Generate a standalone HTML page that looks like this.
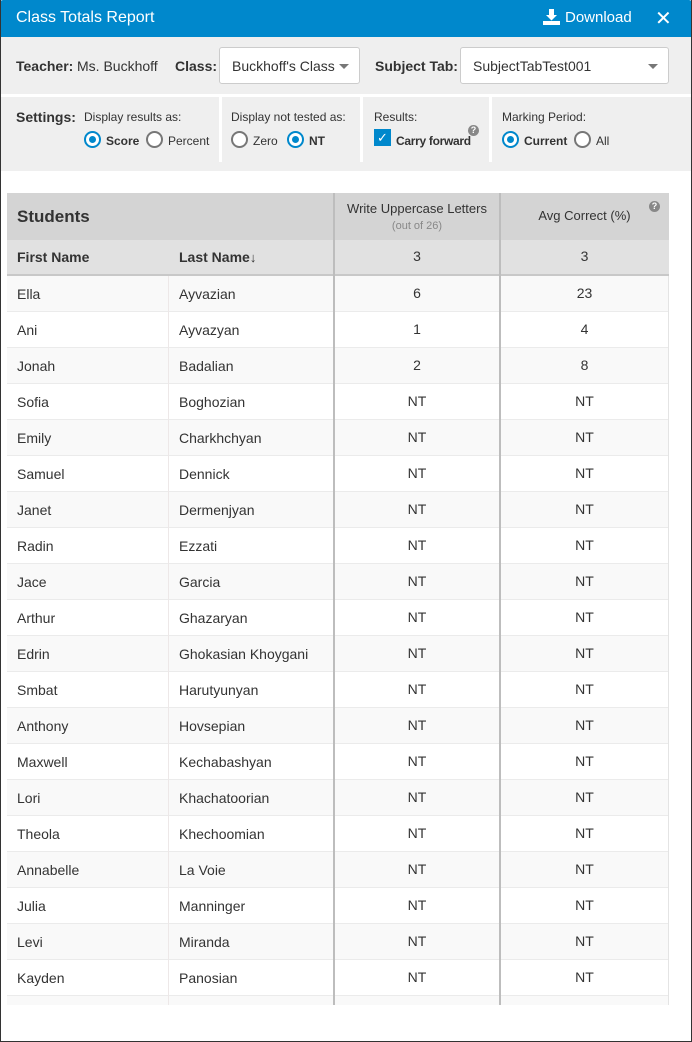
<!DOCTYPE html>
<html><head><meta charset="utf-8">
<style>
*{box-sizing:border-box;margin:0;padding:0}
body{width:692px;height:1042px;overflow:hidden;background:#fff;font-family:"Liberation Sans",sans-serif;color:#333;position:relative}
#frame{position:absolute;left:0;top:0;width:692px;height:1042px;border:1px solid #333;border-top:none;overflow:hidden}
#title{position:absolute;left:-1px;top:0;width:692px;height:37px;background:#0088cc;color:#fff;border-radius:3px 3px 0 0}
#title .t{position:absolute;left:16px;top:9px;font-size:16px}
#title .dl{position:absolute;left:543px;top:9px;font-size:15px}
#title .x{position:absolute;left:655px;top:6px;font-size:20px}
#panel{position:absolute;left:0;top:37px;width:690px;height:134px;background:#efefef}
#sep{position:absolute;left:0;top:57px;width:690px;height:3px;background:#fff}
.lbl{position:absolute;font-size:14px;font-weight:bold;color:#333}
.txt{position:absolute;font-size:14px;color:#333}
.sel{position:absolute;background:#fff;border:1px solid #ccc;border-radius:3px;height:37px;font-size:14px;padding:10px 0 0 12px}
.sel .ar{position:absolute;right:10px;top:16px;width:0;height:0;border-left:5px solid transparent;border-right:5px solid transparent;border-top:5px solid #777}
.vs{position:absolute;top:60px;width:3px;height:65px;background:#fff}
.sm{position:absolute;font-size:12px;color:#333}
.radio{position:absolute;width:17px;height:17px;border-radius:50%;border:2px solid #777;background:#fff}
.radio.on{border-color:#0088cc}
.radio.on::after{content:"";position:absolute;left:3px;top:3px;width:7px;height:7px;border-radius:50%;background:#0088cc}
.chk{position:absolute;width:17px;height:17px;background:#0088cc;color:#fff;font-size:13px;text-align:center;line-height:17px}
.q{position:absolute;width:11px;height:11px;border-radius:50%;background:#888;color:#fff;font-size:9px;font-weight:bold;text-align:center;line-height:11px}
#table{position:absolute;left:6px;top:193px;width:662px;height:812px;overflow:hidden}
.c{position:absolute;font-size:14px;line-height:36px;white-space:nowrap}
</style></head>
<body>
<div id="frame">
<div id="title">
 <span class="t">Class Totals Report</span>
 <svg style="position:absolute;left:543px;top:9px" width="17" height="16" viewBox="0 0 17 16"><path d="M6 0h5v6h3l-5.5 5.5L3 6h3z" fill="#fff"/><rect x="0" y="12" width="17" height="4" fill="#fff"/></svg>
 <span class="dl" style="left:565px">Download</span>
 <span class="x">&#x2715;</span>
</div>
<div id="panel">
 <span class="lbl" style="left:15px;top:21px">Teacher:</span>
 <span class="txt" style="left:76px;top:21px">Ms. Buckhoff</span>
 <span class="lbl" style="left:174px;top:21px">Class:</span>
 <div class="sel" style="left:218px;top:10px;width:141px">Buckhoff's Class<span class="ar"></span></div>
 <span class="lbl" style="left:374px;top:21px">Subject Tab:</span>
 <div class="sel" style="left:459px;top:10px;width:209px">SubjectTabTest001<span class="ar"></span></div>
 <div id="sep"></div>
 <span class="lbl" style="left:15px;top:72px">Settings:</span>
 <span class="sm" style="left:83px;top:73px">Display results as:</span>
 <div class="radio on" style="left:83px;top:94px"></div>
 <span class="sm" style="left:105px;top:97px;font-weight:bold">Score</span>
 <div class="radio" style="left:145px;top:94px"></div>
 <span class="sm" style="left:167px;top:97px">Percent</span>
 <div class="vs" style="left:218px"></div>
 <span class="sm" style="left:230px;top:73px">Display not tested as:</span>
 <div class="radio" style="left:230px;top:94px"></div>
 <span class="sm" style="left:252px;top:97px">Zero</span>
 <div class="radio on" style="left:286px;top:94px"></div>
 <span class="sm" style="left:308px;top:97px;font-weight:bold">NT</span>
 <div class="vs" style="left:359px"></div>
 <span class="sm" style="left:373px;top:73px">Results:</span>
 <div class="chk" style="left:373px;top:92px">&#x2713;</div>
 <span class="sm" style="left:395px;top:97px;font-weight:bold;letter-spacing:-0.3px">Carry forward</span>
 <div class="q" style="left:467px;top:88px">?</div>
 <div class="vs" style="left:488px"></div>
 <span class="sm" style="left:501px;top:73px">Marking Period:</span>
 <div class="radio on" style="left:501px;top:94px"></div>
 <span class="sm" style="left:523px;top:97px;font-weight:bold">Current</span>
 <div class="radio" style="left:573px;top:94px"></div>
 <span class="sm" style="left:595px;top:97px">All</span>
</div>
<div id="table"></div>
</div>
<script>
const firstNames=["Ella","Ani","Jonah","Sofia","Emily","Samuel","Janet","Radin","Jace","Arthur","Edrin","Smbat","Anthony","Maxwell","Lori","Theola","Annabelle","Julia","Levi","Kayden",""];
const lastNames=["Ayvazian","Ayvazyan","Badalian","Boghozian","Charkhchyan","Dennick","Dermenjyan","Ezzati","Garcia","Ghazaryan","Ghokasian Khoygani","Harutyunyan","Hovsepian","Kechabashyan","Khachatoorian","Khechoomian","La Voie","Manninger","Miranda","Panosian",""];
const scores=["6","1","2","NT","NT","NT","NT","NT","NT","NT","NT","NT","NT","NT","NT","NT","NT","NT","NT","NT",""];
const avgs=["23","4","8","NT","NT","NT","NT","NT","NT","NT","NT","NT","NT","NT","NT","NT","NT","NT","NT","NT",""];
const counts=["3","3"];
const T=document.getElementById('table');
function box(x,y,w,h,bg,name){const d=document.createElement('div');d.style.cssText=`position:absolute;left:${x}px;top:${y}px;width:${w}px;height:${h}px;background:${bg}`;


T.appendChild(d);return d;}
function txt(x,y,w,s,name,extra,inter){const d=document.createElement('div');d.className='c';d.style.cssText=`left:${x}px;top:${y}px;width:${w}px;${extra||''}`;d.innerHTML=s;


T.appendChild(d);return d;}
box(0,0,662,47,'#d4d4d4','header-row-1');
box(0,47,662,35,'#e1e1e1','header-row-2');
txt(10,6,150,'Students','students-header','font-size:17px;font-weight:bold');
txt(327,0,166,'<div style="line-height:16px;padding-top:8px;text-align:center;font-size:13px">Write Uppercase Letters<br><span style="font-size:11px;color:#888">(out of 26)</span></div>','write-uppercase-header','line-height:16px');
txt(493,5,169,'Avg Correct (%)','avg-correct-header','text-align:center;font-size:13px');
const q=document.createElement('div');q.className='q';q.style.cssText='left:642px;top:8px';q.textContent='?';


T.appendChild(q);
txt(10,46,150,'First Name','first-name-header','font-weight:bold',true);
txt(172,46,150,'Last Name<span style="font-size:13px">&#x2193;</span>','last-name-header','font-weight:bold',true);
txt(327,45,166,counts[0],'score-count','text-align:center');
txt(493,45,169,counts[1],'avg-count','text-align:center');
box(0,81,662,2,'#c8c8c8','header-border');
for(let i=0;i<firstNames.length;i++){
 const y=83+i*36;
 box(0,y,662,36,i%2?'#ffffff':'#f9f9f9','student-row');
 box(0,y+35,662,1,'#ebebeb','row-divider');
 txt(10,y,150,firstNames[i],'first-name-cell');
 txt(172,y,150,lastNames[i],'last-name-cell');
 txt(327,y-1,166,scores[i],'score-cell','text-align:center');
 txt(493,y-1,169,avgs[i],'avg-cell','text-align:center');
}
box(161,83,1,740,'#ede8e8','col-divider-1');
box(326,0,2,820,'#bdbdbd','col-divider-2');
box(492,0,2,820,'#bdbdbd','col-divider-3');
box(661,83,1,740,'#e4e4e4','table-right-edge');
</script>
</body></html>
